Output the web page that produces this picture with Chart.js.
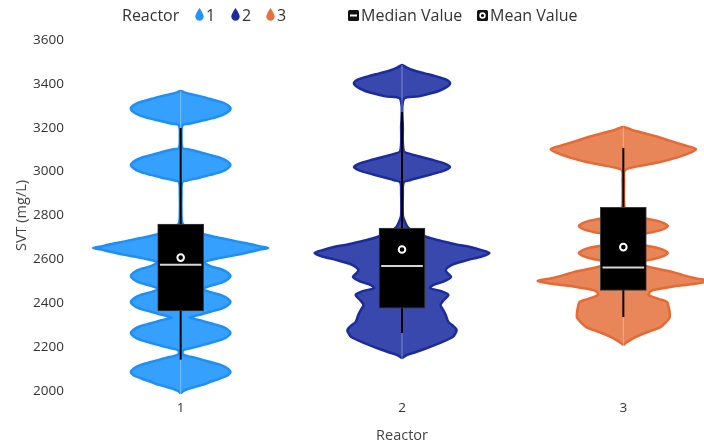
<!DOCTYPE html>
<html>
<head>
<meta charset="utf-8">
<script src="https://cdn.jsdelivr.net/npm/chart.js@4.4.1/dist/chart.umd.min.js"></script>
<style>
  html, body { margin: 0; padding: 0; background: #fff; overflow: hidden; width: 704px; height: 446px; }
  #wrap { position: relative; width: 740px; height: 446px; }
  #chart { position: absolute; left: 0; top: 0; }
  #legend { position: absolute; left: 0; top: 0; width: 704px; height: 32px;
            font-family: 'Open Sans', sans-serif; font-size: 16px; color: #333; }
  #legend .t { position: absolute; top: 4px; line-height: 22px; white-space: nowrap; }
  #legend svg { position: absolute; }
</style>
</head>
<body>
<div id="wrap">
  <canvas id="chart" width="740" height="446"></canvas>
  <div id="legend"></div>
</div>
<script>
// Reactor categories
const reactors = ['1', '2', '3'];

// Violin density profiles: [SVT (mg/L), relative density]
const reactor1Density = [
  [1990, 0], [2000, 0.03], [2009, 0.08], [2017, 0.15], [2025, 0.22], [2032, 0.28], [2042, 0.34],
  [2057, 0.45], [2072, 0.54], [2087, 0.57], [2102, 0.54], [2117, 0.47], [2132, 0.34],
  [2142, 0.25], [2151, 0.17], [2159, 0.08], [2166, 0.03], [2176, 0.02],
  [2186, 0.03], [2192, 0.08], [2200, 0.17], [2209, 0.25], [2219, 0.34], [2234, 0.47],
  [2249, 0.54], [2264, 0.57], [2279, 0.54], [2294, 0.47], [2309, 0.34], [2319, 0.25],
  [2328, 0.16], [2335, 0.10], [2342, 0.16], [2351, 0.25], [2361, 0.34], [2376, 0.47],
  [2391, 0.54], [2406, 0.57], [2421, 0.54], [2436, 0.47], [2451, 0.34], [2465, 0.25],
  [2479, 0.34], [2494, 0.47], [2509, 0.54], [2524, 0.57], [2539, 0.54], [2554, 0.47],
  [2569, 0.34], [2588, 0.27], [2607, 0.46], [2622, 0.66], [2637, 0.83], [2645, 0.91],
  [2652, 1.00], [2659, 0.91], [2667, 0.83], [2682, 0.64], [2697, 0.46], [2711, 0.30],
  [2728, 0.15], [2745, 0.07], [2765, 0.02], [2800, 0.01], [2900, 0.01],
  [2953, 0.02], [2960, 0.08], [2968, 0.17], [2976, 0.25], [2985, 0.34], [3000, 0.47],
  [3015, 0.54], [3030, 0.57], [3045, 0.54], [3060, 0.47], [3075, 0.34], [3085, 0.25],
  [3094, 0.17], [3102, 0.08], [3108, 0.02], [3160, 0.01],
  [3211, 0.02], [3218, 0.09], [3226, 0.18], [3235, 0.28], [3244, 0.37], [3255, 0.46],
  [3267, 0.52], [3278, 0.56], [3290, 0.57], [3302, 0.54], [3313, 0.49], [3322, 0.42],
  [3332, 0.33], [3342, 0.24], [3351, 0.14], [3360, 0.05], [3367, 0]
];
const reactor2Density = [
  [2150, 0], [2165, 0.06], [2178, 0.16], [2195, 0.28], [2210, 0.38], [2225, 0.47], [2246, 0.58],
  [2262, 0.61], [2278, 0.625], [2295, 0.59], [2315, 0.53], [2346, 0.50], [2370, 0.47],
  [2392, 0.44], [2415, 0.48], [2438, 0.53], [2455, 0.45], [2469, 0.32], [2484, 0.36],
  [2500, 0.48], [2520, 0.56], [2538, 0.52], [2551, 0.50], [2565, 0.53], [2580, 0.60],
  [2597, 0.75], [2614, 0.92], [2629, 1.00], [2643, 0.90], [2656, 0.78], [2668, 0.62],
  [2679, 0.50], [2695, 0.34], [2711, 0.22], [2730, 0.12], [2750, 0.06], [2775, 0.03],
  [2800, 0.01], [2900, 0.01],
  [2951, 0.02], [2961, 0.09], [2973, 0.20], [2987, 0.33], [3000, 0.45], [3011, 0.52],
  [3021, 0.55], [3031, 0.52], [3042, 0.45], [3055, 0.33], [3069, 0.20], [3081, 0.09],
  [3094, 0.02], [3200, 0.01],
  [3331, 0.02], [3343, 0.19], [3357, 0.33], [3371, 0.44], [3388, 0.52], [3404, 0.55],
  [3420, 0.50], [3434, 0.39], [3448, 0.26], [3462, 0.13], [3475, 0.05], [3486, 0]
];
const reactor3Density = [
  [2210, 0], [2225, 0.05], [2246, 0.14], [2269, 0.28], [2290, 0.42], [2310, 0.48], [2335, 0.53],
  [2356, 0.53], [2380, 0.52], [2406, 0.50], [2420, 0.40], [2438, 0.29], [2450, 0.30],
  [2460, 0.34], [2475, 0.55], [2488, 0.80], [2501, 0.98], [2514, 0.82], [2528, 0.68],
  [2542, 0.57], [2556, 0.40], [2567, 0.28], [2579, 0.22],
  [2589, 0.20], [2599, 0.31], [2609, 0.42], [2619, 0.48], [2629, 0.51], [2639, 0.48],
  [2649, 0.42], [2659, 0.31], [2669, 0.18], [2684, 0.12], [2700, 0.16],
  [2712, 0.18], [2722, 0.31], [2732, 0.42], [2742, 0.48], [2752, 0.51], [2762, 0.48],
  [2772, 0.42], [2782, 0.31], [2792, 0.18], [2800, 0.09], [2808, 0.03], [2850, 0.01],
  [2960, 0.01],
  [3007, 0.02], [3025, 0.18], [3044, 0.42], [3065, 0.62], [3085, 0.76], [3103, 0.83],
  [3120, 0.70], [3140, 0.54], [3158, 0.40], [3175, 0.24], [3190, 0.10], [3203, 0]
];

// Box plot statistics per reactor
const q1Values     = [2365, 2378, 2458];
const q3Values     = [2761, 2743, 2837];
const medianValues = [2576, 2570, 2563];
const meanValues   = [2608, 2645, 2656];
const whiskerLow   = [2143, 2264, 2337];
const whiskerHigh  = [3199, 3272, 3108];

// Y axis range and step
const svtMin = 2000, svtMax = 3600, svtStep = 200;

// Styling
const FONT = "'Open Sans', sans-serif";
const fillColors   = ['#36a0ff', '#3848ad', '#e8865a'];
const borderColors = ['#1f8ff8', '#1c2b9e', '#e56a34'];
const iconColors   = ['#2593ff', '#1c2b9e', '#e8703a'];
const VIOLIN_HALF = 0.395;   // half width (x units) of a density of 1
const MEDIAN_HALF = 0.094;   // half length (x units) of the median tick

const densities = [reactor1Density, reactor2Density, reactor3Density];

function violinOutline(center, profile) {
  const right = profile.map(([v, d]) => ({ x: center + d * VIOLIN_HALF, y: v }));
  const left = profile.slice().reverse().map(([v, d]) => ({ x: center - d * VIOLIN_HALF, y: v }));
  return right.concat(left.slice(1));
}

const datasets = [];

densities.forEach((prof, i) => {
  // violin body
  datasets.push({
    label: 'violin' + reactors[i],
    data: violinOutline(i + 1, prof),
    showLine: true,
    fill: 'shape',
    backgroundColor: fillColors[i],
    borderColor: borderColors[i],
    borderWidth: 2.5,
    tension: 0.3,
    pointRadius: 0,
    clip: false,
    order: 10
  });
  // faint centre line
  datasets.push({
    data: [{ x: i + 1, y: prof[0][0] }, { x: i + 1, y: prof[prof.length - 1][0] }],
    showLine: true,
    borderColor: 'rgba(255,255,255,0.35)',
    borderWidth: 1,
    pointRadius: 0,
    clip: false,
    order: 9
  });
  // whisker
  datasets.push({
    data: [{ x: i + 1, y: whiskerLow[i] }, { x: i + 1, y: whiskerHigh[i] }],
    showLine: true,
    borderColor: '#000',
    borderWidth: 2,
    pointRadius: 0,
    order: 8
  });
  // median
  datasets.push({
    data: [{ x: i + 1 - MEDIAN_HALF, y: medianValues[i] }, { x: i + 1 + MEDIAN_HALF, y: medianValues[i] }],
    showLine: true,
    borderColor: '#d6d6d6',
    borderWidth: 2,
    pointRadius: 0,
    order: 2
  });
});

// Boxes (interquartile range)
datasets.push({
  type: 'bar',
  data: reactors.map((r, i) => ({ x: i + 1, y: [q1Values[i], q3Values[i]] })),
  backgroundColor: '#000',
  borderColor: '#3c3c3c',
  borderWidth: 1,
  borderSkipped: false,
  barThickness: 46,
  order: 3
});

// Means
datasets.push({
  data: reactors.map((r, i) => ({ x: i + 1, y: meanValues[i] })),
  pointRadius: 3.3,
  pointBorderWidth: 2,
  pointBorderColor: '#fff',
  pointBackgroundColor: '#000',
  order: 1
});

new Chart(document.getElementById('chart'), {
  type: 'scatter',
  data: { datasets },
  options: {
    responsive: false,
    animation: false,
    events: [],
    layout: { padding: { top: 40, right: 1, left: 0, bottom: 0 } },
    plugins: { legend: { display: false }, tooltip: { enabled: false } },
    scales: {
      x: {
        type: 'linear',
        min: 0.5,
        max: 3.5,
        offset: false,
        grid: { display: false, drawTicks: false, offset: false },
        border: { display: false },
        afterFit: s => { s.height = 55; },
        afterBuildTicks: s => { s.ticks = reactors.map((r, i) => ({ value: i + 1 })); },
        ticks: {
          padding: 9,
          color: '#333',
          font: { family: FONT, size: 13.5 },
          callback: v => reactors[Math.round(v) - 1]
        },
        title: {
          display: true,
          text: 'Reactor',
          color: '#444',
          font: { family: FONT, size: 14.5 },
          padding: { top: 0, bottom: 1 }
        }
      },
      y: {
        type: 'linear',
        min: svtMin,
        max: svtMax,
        grid: { display: false, drawTicks: false },
        border: { display: false },
        afterFit: s => { s.width = 70; },
        ticks: {
          stepSize: svtStep,
          padding: 6,
          color: '#333',
          font: { family: FONT, size: 13.5 },
          callback: v => String(v)
        },
        title: {
          display: true,
          text: 'SVT (mg/L)',
          color: '#444',
          font: { family: FONT, size: 14.5 },
          padding: { top: 13, bottom: 0 }
        }
      }
    }
  }
});

// Legend
const drop = c => `<svg width="9" height="13" viewBox="0 0 9 13"><path d="M4.5 0 C4.5 0 0.3 6 0.3 8.6 A4.2 4.2 0 0 0 8.7 8.6 C8.7 6 4.5 0 4.5 0 Z" fill="${c}"/></svg>`;
const legend = document.getElementById('legend');
let html = `<span class="t" style="left:122px">Reactor</span>`;
const dropX = [195, 231, 266];
reactors.forEach((r, i) => {
  html += `<span style="position:absolute;left:${dropX[i]}px;top:8px">${drop(iconColors[i])}</span>`;
  html += `<span class="t" style="left:${dropX[i] + 11}px">${r}</span>`;
});
html += `<svg style="left:348px;top:10px" width="11" height="11"><rect x="0" y="0" width="11" height="11" rx="1.5" fill="#111"/><rect x="2" y="4.5" width="7" height="2" fill="#fff"/></svg>`;
html += `<span class="t" style="left:361px">Median Value</span>`;
html += `<svg style="left:477px;top:10px" width="11" height="11"><rect x="0" y="0" width="11" height="11" rx="1.5" fill="#111"/><circle cx="5.5" cy="5.5" r="2.4" fill="none" stroke="#fff" stroke-width="1.6"/></svg>`;
html += `<span class="t" style="left:490px">Mean Value</span>`;
legend.innerHTML = html;
</script>
</body>
</html>
